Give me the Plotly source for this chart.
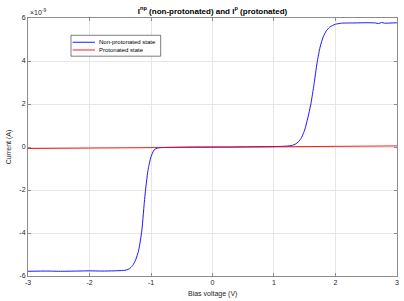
import plotly.graph_objects as go

# Bias voltage (V) and current (units of 1e-9 A)
v_np = [-3.0, -2.7, -2.5, -2.2, -2.0, -1.8, -1.6, -1.45, -1.4, -1.35, -1.3, -1.25, -1.2, -1.15, -1.1,
        -1.05, -1.0, -0.95, -0.9, -0.85, -0.8, -0.6, -0.3, 0.0, 0.3, 0.6, 1.0, 1.2, 1.3, 1.35, 1.4,
        1.45, 1.5, 1.55, 1.6, 1.65, 1.7, 1.75, 1.8, 1.85, 1.9, 1.95, 2.0, 2.1, 2.3, 2.5, 2.65, 2.7,
        2.75, 2.8, 3.0]
i_np = [-5.78, -5.77, -5.78, -5.77, -5.76, -5.77, -5.76, -5.74, -5.72, -5.66, -5.52, -5.25, -4.8,
        -3.9, -2.3, -1.1, -0.45, -0.14, -0.05, -0.03, -0.02, -0.01, 0.0, 0.0, 0.0, 0.01, 0.02, 0.04,
        0.08, 0.14, 0.25, 0.45, 0.8, 1.35, 2.0, 2.9, 3.9, 4.65, 5.12, 5.4, 5.56, 5.65, 5.71, 5.76,
        5.77, 5.78, 5.77, 5.74, 5.79, 5.76, 5.78]

v_p = [-3.0, -2.0, -1.0, 0.0, 1.0, 2.0, 3.0]
i_p = [-0.07, -0.05, -0.03, -0.01, 0.01, 0.03, 0.05]

x_ticks = [-3, -2, -1, 0, 1, 2, 3]
y_ticks = [-6, -4, -2, 0, 2, 4, 6]

series_names = ["Non-protonated state", "Protonated state"]
series_colors = ["#0000ff", "#ff0000"]

FONT = "Liberation Sans, Arial"

fig = go.Figure()
fig.add_trace(go.Scatter(x=v_np, y=i_np, mode="lines", name=series_names[0],
                         line=dict(color=series_colors[0], width=0.9, shape="spline", smoothing=0.6)))
fig.add_trace(go.Scatter(x=v_p, y=i_p, mode="lines", name=series_names[1],
                         line=dict(color=series_colors[1], width=0.9)))

axis_common = dict(showgrid=True, gridcolor="#e6e6e6", gridwidth=1, zeroline=False,
                   showline=True, linecolor="#8c8c8c", linewidth=1, mirror="ticks",
                   ticks="inside", ticklen=3, tickcolor="#8c8c8c",
                   tickfont=dict(family=FONT, size=7, color="#262626"))

# custom compact legend (MATLAB style)
shapes = [dict(type="rect", xref="paper", yref="paper", x0=0.1165, x1=0.3596, y0=0.852, y1=0.933,
               line=dict(color="#262626", width=0.6), fillcolor="white", layer="above")]
annotations = []
leg_y = [0.906, 0.876]
for name, col, yy in zip(series_names, series_colors, leg_y):
    shapes.append(dict(type="line", xref="paper", yref="paper", x0=0.121, x1=0.1816, y0=yy, y1=yy,
                       line=dict(color=col, width=0.9), layer="above"))
    annotations.append(dict(text=name, xref="paper", yref="paper", x=0.186, y=yy,
                            xanchor="left", yanchor="middle", showarrow=False,
                            font=dict(family=FONT, size=6, color="#000000")))

annotations.append(dict(text="×10<sup>-9</sup>", xref="paper", yref="paper", x=0, y=1,
                        xanchor="left", yanchor="bottom", showarrow=False,
                        font=dict(family=FONT, size=7, color="#262626")))
annotations.append(dict(text="Bias voltage (V)", xref="paper", yref="paper", x=0.5, y=0,
                        xanchor="center", yanchor="middle", yshift=-18, showarrow=False,
                        font=dict(family=FONT, size=7, color="#262626")))

fig.update_layout(
    width=404, height=301,
    margin=dict(l=28, r=7, t=18, b=25),
    paper_bgcolor="white", plot_bgcolor="white",
    title=dict(text="<b>I<sup>np</sup> (non-protonated) and I<sup>p</sup> (protonated)</b>",
               x=(28 + 369 / 2) / 404, xanchor="center", y=1 - 11 / 301, yanchor="middle",
               font=dict(family=FONT, size=8, color="#000000")),
    xaxis=dict(range=[-3.0005, 3.0005], tickvals=x_ticks, ticktext=[str(t) for t in x_ticks],
               automargin=False, **axis_common),
    yaxis=dict(range=[-6, 6], tickvals=y_ticks, ticktext=[str(t) for t in y_ticks],
               automargin=False,
               title=dict(text="Current (A)", standoff=6,
                          font=dict(family=FONT, size=7, color="#262626")),
               **axis_common),
    showlegend=False,
    shapes=shapes,
    annotations=annotations,
)

fig.write_html("out.html", config={"displayModeBar": False},
               post_script="document.body.style.margin='0';document.body.style.padding='0';")
